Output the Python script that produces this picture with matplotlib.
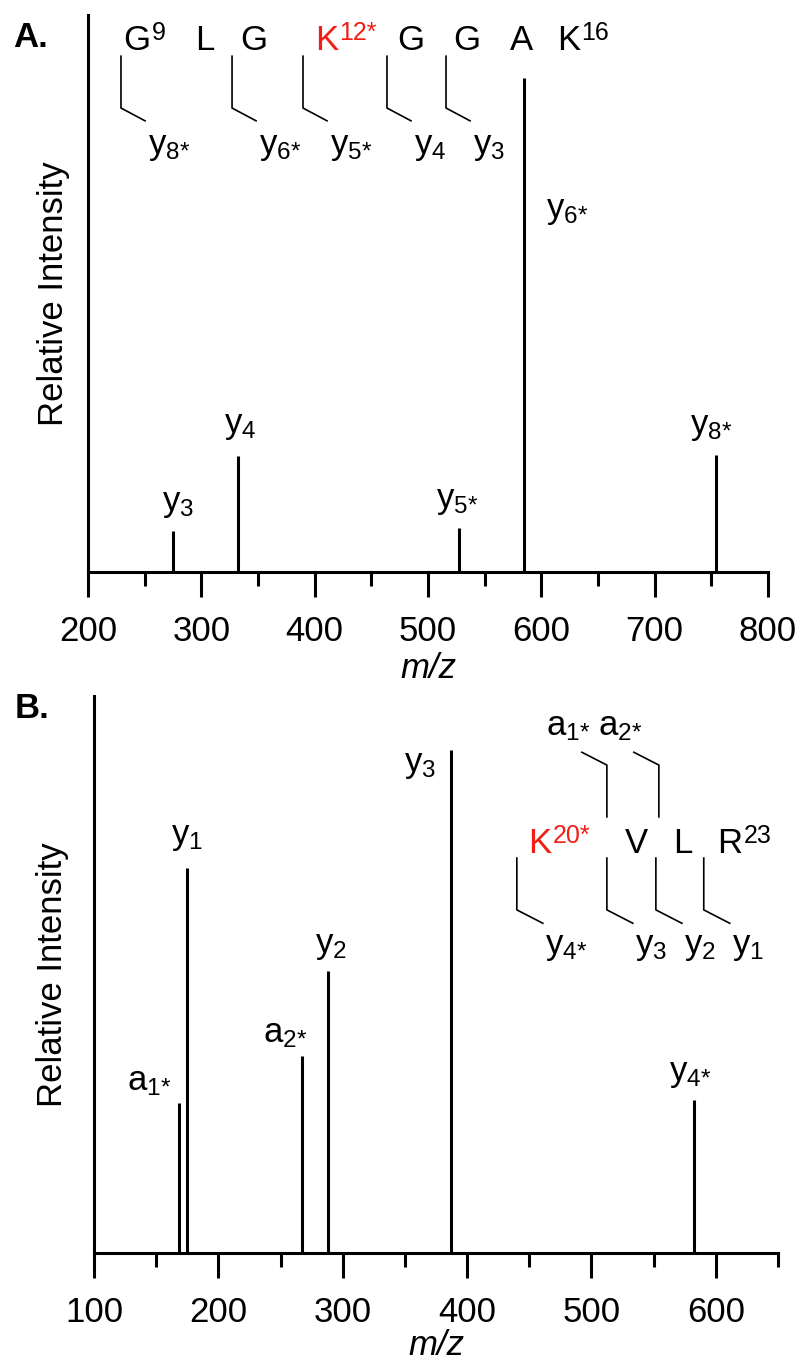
import matplotlib
matplotlib.use('Agg')
from matplotlib import pyplot as plt
from matplotlib.ticker import MultipleLocator

plt.rcParams['font.family'] = ['Liberation Sans', 'DejaVu Sans']
plt.rcParams['mathtext.fontset'] = 'custom'
plt.rcParams['mathtext.rm'] = 'Liberation Sans'
plt.rcParams['mathtext.it'] = 'Liberation Sans:italic'
plt.rcParams['mathtext.bf'] = 'Liberation Sans:bold'

# ---- panel A: G9 L G K12* G G A K16 ----
mz_a = [275.2, 332.2, 527.3, 584.3, 754.4]
int_a = [7.4, 20.8, 7.9, 88.7, 21.0]
ions_a = ['y_{3}', 'y_{4}', 'y_{5*}', 'y_{6*}', 'y_{8*}']

seq_a = ['G', 'L', 'G', 'K', 'G', 'G', 'A', 'K']
seq_a_sup = ['9', '', '', '12*', '', '', '', '16']
seq_a_mod = [False, False, False, True, False, False, False, False]
cuts_a = ['y_{8*}', 'y_{6*}', 'y_{5*}', 'y_{4}', 'y_{3}']

# ---- panel B: K20* V L R23 ----
mz_b = [168.1, 175.1, 267.2, 288.2, 387.3, 582.4]
int_b = [26.9, 69.1, 35.4, 50.6, 90.3, 27.5]
ions_b = ['a_{1*}', 'y_{1}', 'a_{2*}', 'y_{2}', 'y_{3}', 'y_{4*}']

seq_b = ['K', 'V', 'L', 'R']
seq_b_sup = ['20*', '', '', '23']
seq_b_mod = [True, False, False, False]
cuts_b_y = ['y_{4*}', 'y_{3}', 'y_{2}', 'y_{1}']
cuts_b_a = ['a_{1*}', 'a_{2*}']

# layout of the annotations (not data)
# label offsets in points: (dx, dy, ha, va)
lab_a = [(3.5, 8, 'center', 'bottom'), (2, 10, 'center', 'bottom'),
         (-1.5, 8, 'center', 'bottom'), (16, -107, 'left', 'bottom'),
         (-3.5, 9, 'center', 'bottom')]
lab_b = [(-5, 3.5, 'right', 'bottom'), (0, 11, 'center', 'bottom'),
         (3.5, 4, 'right', 'bottom'), (2, 6.5, 'center', 'bottom'),
         (-11, 1.5, 'right', 'top'), (-3, 7, 'center', 'bottom')]
seq_a_x = [230.9, 294.4, 334.1, 400.3, 472.7, 522.1, 572.4, 613.8]
cut_a_x = [229.1, 327.1, 389.7, 463.8, 515.9]
seq_b_x = [448.9, 526.8, 565.4, 600.8]
cut_b_y_x = [440.0, 512.4, 551.8, 590.3]
cut_b_a_x = [512.4, 554.2]

FS = 25
SUPFS = 18
RED = '#f01e14'
LW = 2.2


def ion(name):
    # keep the star as a plain text glyph so it sits tight and raised
    return '$\\mathrm{%s}$' % name.replace('*', '\\text{*}')


def residue(ax, x, y, letter, sup, red):
    col = RED if red else 'black'
    t = ax.text(x, y, letter, fontsize=FS, color=col, ha='left', va='baseline')
    if sup:
        ax.annotate(sup, xy=(1, 0), xycoords=t, xytext=(1, 12),
                    textcoords='offset points', fontsize=SUPFS, color=col,
                    ha='left', va='baseline')


def setup(ax, xmin, xmax, ypad, xpad):
    ax.set_xlim(xmin, xmax)
    ax.set_ylim(0, 100)
    for s in ['top', 'right']:
        ax.spines[s].set_visible(False)
    for s in ['left', 'bottom']:
        ax.spines[s].set_linewidth(LW)
    ax.set_yticks([])
    ax.xaxis.set_major_locator(MultipleLocator(100))
    ax.xaxis.set_minor_locator(MultipleLocator(50))
    ax.tick_params(axis='x', which='major', direction='out', length=18,
                   width=LW, labelsize=FS, pad=13)
    ax.tick_params(axis='x', which='minor', direction='out', length=10, width=LW)
    ax.set_ylabel('Relative Intensity', fontsize=FS, labelpad=ypad)
    ax.set_xlabel('m/z', fontsize=FS, style='italic', labelpad=xpad)


def peaks(ax, mz, inten, ions, labs):
    ax.vlines(mz, 0, inten, color='black', lw=LW)
    for m, h, name, (dx, dy, ha, va) in zip(mz, inten, ions, labs):
        ax.annotate(ion(name), xy=(m, h), xytext=(dx, dy),
                    textcoords='offset points', fontsize=FS, ha=ha, va=va,
                    annotation_clip=False)


fig = plt.figure(figsize=(8.04, 13.61), dpi=100)

# ---------------- A ----------------
ax_a = fig.add_axes([88 / 804, 1 - 572 / 1361, 680 / 804, 557 / 1361])
setup(ax_a, 200, 800, 13, 3)
peaks(ax_a, mz_a, int_a, ions_a, lab_a)

for x, r, s, m in zip(seq_a_x, seq_a, seq_a_sup, seq_a_mod):
    residue(ax_a, x, 93.7, r, s, m)
for x, name in zip(cut_a_x, cuts_a):
    ax_a.plot([x, x, x + 21.2], [92.6, 83.3, 81.0], color='black', lw=1.2,
              clip_on=False)
    ax_a.text(x + 24, 79.4, ion(name), fontsize=FS, ha='left', va='top')

# ---------------- B ----------------
ax_b = fig.add_axes([94 / 804, 1 - 1253 / 1361, 684 / 804, 557 / 1361])
setup(ax_b, 100, 650, 18, 0)
peaks(ax_b, mz_b, int_b, ions_b, lab_b)

for x, r, s, m in zip(seq_b_x, seq_b, seq_b_sup, seq_b_mod):
    residue(ax_b, x, 71.8, r, s, m)
for x, name in zip(cut_b_y_x, cuts_b_y):
    ax_b.plot([x, x, x + 20.9], [70.9, 61.6, 59.2], color='black', lw=1.2)
    ax_b.text(x + 22.5, 58.0, ion(name), fontsize=FS, ha='left', va='top')
for x, name in zip(cut_b_a_x, cuts_b_a):
    ax_b.plot([x - 20.1, x, x], [89.9, 87.6, 78.3], color='black', lw=1.2)
    ax_b.text(x - 31.4, 91.6, ion(name), fontsize=FS, ha='center', va='bottom')

fig.text(13 / 804, 1 - 47 / 1361, 'A.', fontsize=FS, fontweight='bold',
         va='baseline')
fig.text(15 / 804, 1 - 718 / 1361, 'B.', fontsize=FS, fontweight='bold',
         va='baseline')

fig.savefig('out.png', dpi=100)
